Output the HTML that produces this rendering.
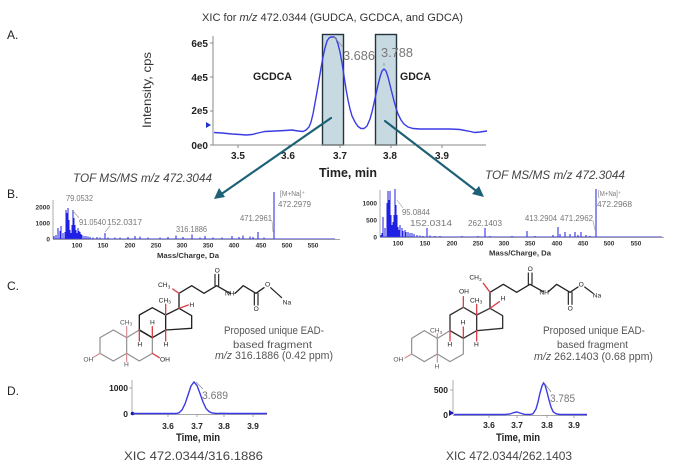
<!DOCTYPE html>
<html><head><meta charset="utf-8"><style>
html,body{margin:0;padding:0;background:#fff;}
svg{display:block;}
text{font-family:"Liberation Sans",Arial,sans-serif;}
</style></head><body>
<svg width="674" height="473" viewBox="0 0 674 473" xmlns="http://www.w3.org/2000/svg">
<rect width="674" height="473" fill="#fff"/>

<!-- Panel labels -->
<text x="7" y="39" font-size="12" fill="#222">A.</text>
<text x="7" y="198" font-size="12" fill="#222">B.</text>
<text x="7" y="290" font-size="12" fill="#222">C.</text>
<text x="7" y="395" font-size="12" fill="#222">D.</text>

<!-- ============ PANEL A ============ -->
<text x="202" y="21" font-size="11" fill="#333" textLength="261" lengthAdjust="spacingAndGlyphs">XIC for <tspan font-style="italic">m/z</tspan> 472.0344 (GUDCA, GCDCA, and GDCA)</text>

<rect x="322.5" y="34.5" width="21" height="110.5" fill="#c8dae1" stroke="#24363d" stroke-width="1.4"/>
<rect x="375.5" y="34.5" width="21" height="110.5" fill="#c8dae1" stroke="#24363d" stroke-width="1.4"/>

<line x1="213" y1="36" x2="213" y2="145" stroke="#888" stroke-width="1"/>
<line x1="213" y1="145" x2="486" y2="145" stroke="#888" stroke-width="1"/>
<g stroke="#888" stroke-width="1">
<line x1="210" y1="43" x2="213" y2="43"/><line x1="210" y1="77" x2="213" y2="77"/>
<line x1="210" y1="111" x2="213" y2="111"/><line x1="210" y1="145" x2="213" y2="145"/>
<line x1="238" y1="145" x2="238" y2="148"/><line x1="289" y1="145" x2="289" y2="148"/>
<line x1="340" y1="145" x2="340" y2="148"/><line x1="391" y1="145" x2="391" y2="148"/>
<line x1="442" y1="145" x2="442" y2="148"/>
</g>
<g font-size="10" font-weight="bold" fill="#222" text-anchor="end">
<text x="208" y="47">6e5</text><text x="208" y="81">4e5</text>
<text x="208" y="114">2e5</text><text x="208" y="149">0e0</text>
</g>
<g font-size="10" font-weight="bold" fill="#222" text-anchor="middle">
<text x="238" y="159">3.5</text><text x="288" y="159">3.6</text>
<text x="340" y="159">3.7</text><text x="390" y="159">3.8</text>
<text x="442" y="159">3.9</text>
</g>
<text x="348" y="177" font-size="13" font-weight="bold" fill="#222" text-anchor="middle" textLength="58" lengthAdjust="spacingAndGlyphs">Time, min</text>
<text transform="translate(151,90) rotate(-90)" font-size="12" fill="#333" text-anchor="middle" textLength="76" lengthAdjust="spacingAndGlyphs">Intensity, cps</text>
<path d="M206,122 L211,125 L206,128 Z" fill="#2233cc"/>

<text x="253" y="80" font-size="11" font-weight="bold" fill="#222" textLength="39" lengthAdjust="spacingAndGlyphs">GCDCA</text>
<text x="400" y="80" font-size="11" font-weight="bold" fill="#222" textLength="31" lengthAdjust="spacingAndGlyphs">GDCA</text>

<path d="M214,132.5 L222,133 L232,134 L240,134.5 L246,135 L252,134.5 L258,133 L265,131.5 L275,131 L285,130.5 L292,130 L298,131 L303,131.5 L306,130 L309,127 L311,122 L313,114 L315,103 L317,92 L319,80 L321,68 L323,57 L325,48 L327,41 L329,38 L331,37 L334,37 L336,38.5 L338,44 L340,52 L342,63 L344,76 L346,89 L348,100 L350,109 L352,116 L355,122 L358,126.5 L361,128.5 L364,128.5 L367,126 L370,119 L372,112 L374,103 L376,94 L378,85 L380,77 L382,71 L384,69 L386,71 L388,77 L390,85 L392,93 L394,101 L396,108 L398,114 L401,120 L404,124 L408,127 L413,128.5 L420,129 L435,129 L450,129 L460,129.5 L468,131 L475,132.5 L480,132 L487,131" fill="none" stroke="#3b3be6" stroke-width="1.4"/>

<line x1="334" y1="37" x2="343" y2="47" stroke="#888" stroke-width="0.8"/>
<line x1="384" y1="63" x2="384" y2="66" stroke="#888" stroke-width="0.8"/>
<text x="343" y="60" font-size="13" fill="#777" textLength="32" lengthAdjust="spacingAndGlyphs">3.686</text>
<text x="381" y="57" font-size="13" fill="#777" textLength="32" lengthAdjust="spacingAndGlyphs">3.788</text>

<g stroke="#1d6177" stroke-width="2.2" fill="none" stroke-linecap="round">
<line x1="331" y1="118" x2="220" y2="195"/>
<line x1="385" y1="121" x2="479" y2="193"/>
</g>
<path d="M214,199 L219,188 L225,197 Z" fill="#1d6177"/>
<path d="M484,197 L472,194 L479,186 Z" fill="#1d6177"/>

<!-- ============ PANEL B LEFT ============ -->
<text x="73" y="182" font-size="12" font-style="italic" fill="#444" textLength="139" lengthAdjust="spacingAndGlyphs">TOF MS/MS m/z 472.3044</text>
<line x1="53" y1="200" x2="53" y2="239" stroke="#999" stroke-width="0.8"/>
<line x1="53" y1="239.5" x2="340" y2="239.5" stroke="#888" stroke-width="0.8"/>
<g font-size="6.5" font-weight="bold" fill="#333" text-anchor="end">
<text x="50" y="209.5">2000</text><text x="50" y="225.5">1000</text><text x="50" y="241.5">0</text>
</g>
<g font-size="6.5" font-weight="bold" fill="#333" text-anchor="middle">
<text x="77" y="247.5">100</text><text x="103" y="247.5">150</text><text x="130" y="247.5">200</text>
<text x="156" y="247.5">250</text><text x="182" y="247.5">300</text><text x="208" y="247.5">350</text>
<text x="234" y="247.5">400</text><text x="261" y="247.5">450</text><text x="287" y="247.5">500</text>
<text x="313" y="247.5">550</text>
</g>
<text x="188" y="258" font-size="7" font-weight="bold" fill="#333" text-anchor="middle" textLength="62" lengthAdjust="spacingAndGlyphs">Mass/Charge, Da</text>
<path d="M54,239 V236 M56,239 V235 M58,239 V228 M60,239 V231 M61,239 V226 M63,239 V233 M65,239 V232 M66,239 V210 M67,239 V213 M68,239 V208 M69,239 V220 M70,239 V230 M71,239 V233 M72,239 V225 M73,239 V210 M74,239 V218 M75,239 V225 M76,239 V230 M77,239 V233 M78,239 V228 M79,239 V231 M80,239 V232 M81,239 V234 M82,239 V235 M84,239 V236 M86,239 V236 M88,239 V236.5 M90,239 V237 M93,239 V237.5 M97,239 V237 M100,239 V237.5 M105,239 V233 M108,239 V237.5 M115,239 V237.5 M120,239 V237.5 M128,239 V237 M135,239 V236 M140,239 V236.5 M148,239 V237.5 M160,239 V237.5 M168,239 V237 M176,239 V235.5 M183,239 V237 M192,239 V234.5 M200,239 V237.5 M205,239 V236 M213,239 V237.5 M222,239 V237.5 M232,239 V236 M239,239 V237 M243,239 V235.5 M250,239 V236.5 M253,239 V237 M258,239 V232 M264,239 V237.5 M274,239 V192" stroke="#1f1fe6" stroke-width="1"/>
<line x1="53" y1="238.8" x2="335" y2="238.8" stroke="#3a3ae0" stroke-width="0.7"/>
<g font-size="8.5" fill="#777">
<text x="66" y="201" textLength="27" lengthAdjust="spacingAndGlyphs">79.0532</text>
<text x="79" y="225" textLength="27" lengthAdjust="spacingAndGlyphs">91.0540</text>
<text x="107" y="225" textLength="35" lengthAdjust="spacingAndGlyphs">152.0317</text>
<text x="176" y="232" textLength="31" lengthAdjust="spacingAndGlyphs">316.1886</text>
<text x="240" y="221" textLength="32" lengthAdjust="spacingAndGlyphs">471.2961</text>
<text x="280" y="196" font-size="7" textLength="25" lengthAdjust="spacingAndGlyphs">[M+Na]⁺</text>
<text x="278" y="207" textLength="33" lengthAdjust="spacingAndGlyphs">472.2979</text>
</g>
<g stroke="#999" stroke-width="0.6" fill="none">
<line x1="73" y1="211" x2="79" y2="218"/>
<line x1="105" y1="232" x2="110" y2="226"/>
<line x1="272" y1="221" x2="273" y2="232"/>
</g>

<!-- ============ PANEL B RIGHT ============ -->
<text x="485" y="179" font-size="12" font-style="italic" fill="#444" textLength="140" lengthAdjust="spacingAndGlyphs">TOF MS/MS m/z 472.3044</text>
<line x1="380" y1="190" x2="380" y2="237" stroke="#999" stroke-width="0.8"/>
<line x1="380" y1="237.5" x2="664" y2="237.5" stroke="#888" stroke-width="0.8"/>
<g font-size="6.5" font-weight="bold" fill="#333" text-anchor="end">
<text x="377" y="205.5">1000</text><text x="377" y="222.5">500</text><text x="377" y="239.5">0</text>
</g>
<g font-size="6.5" font-weight="bold" fill="#333" text-anchor="middle">
<text x="398" y="245.5">100</text><text x="425" y="245.5">150</text><text x="452" y="245.5">200</text>
<text x="478" y="245.5">250</text><text x="504" y="245.5">300</text><text x="530" y="245.5">350</text>
<text x="557" y="245.5">400</text><text x="583" y="245.5">450</text><text x="609" y="245.5">500</text>
<text x="636" y="245.5">550</text>
</g>
<text x="520" y="255.5" font-size="7" font-weight="bold" fill="#333" text-anchor="middle" textLength="62" lengthAdjust="spacingAndGlyphs">Mass/Charge, Da</text>
<path d="M381,237 V235 M382,237 V233 M383,237 V217 M385,237 V228 M387,237 V203 M388,237 V191 M389,237 V200 M390,237 V191 M391,237 V215 M392,237 V225 M393,237 V222 M394,237 V215 M395,237 V189 M396,237 V205 M397,237 V215 M398,237 V227 M399,237 V230 M400,237 V225 M402,237 V228 M403,237 V231 M405,237 V230 M406,237 V232 M408,237 V232 M410,237 V233 M412,237 V233 M414,237 V234 M417,237 V235 M420,237 V235.5 M423,237 V236 M427,237 V228 M430,237 V235.5 M435,237 V236 M440,237 V236 M448,237 V236.5 M455,237 V236.5 M462,237 V236 M470,237 V236.5 M478,237 V236 M485,237 V228 M490,237 V236 M495,237 V236.5 M505,237 V236.5 M512,237 V236 M520,237 V236.5 M527,237 V231 M535,237 V236 M545,237 V236.5 M553,237 V235 M558,237 V227 M560,237 V234 M565,237 V232 M570,237 V234 M575,237 V232 M578,237 V235 M581,237 V232 M586,237 V235 M590,237 V236 M596,237 V189" stroke="#1f1fe6" stroke-width="1"/>
<line x1="380" y1="236.8" x2="662" y2="236.8" stroke="#3a3ae0" stroke-width="0.7"/>
<g font-size="8.5" fill="#777">
<text x="402" y="215" textLength="28" lengthAdjust="spacingAndGlyphs">95.0844</text>
<text x="410" y="226" textLength="42" lengthAdjust="spacingAndGlyphs">152.0314</text>
<text x="468" y="226" textLength="34" lengthAdjust="spacingAndGlyphs">262.1403</text>
<text x="525" y="221" textLength="32" lengthAdjust="spacingAndGlyphs">413.2904</text>
<text x="560" y="221" textLength="33" lengthAdjust="spacingAndGlyphs">471.2962</text>
<text x="598" y="196" font-size="7" textLength="23" lengthAdjust="spacingAndGlyphs">[M+Na]⁺</text>
<text x="597" y="207" textLength="35" lengthAdjust="spacingAndGlyphs">472.2968</text>
</g>
<g stroke="#999" stroke-width="0.6" fill="none">
<line x1="397" y1="200" x2="403" y2="208"/>
<line x1="593" y1="221" x2="595" y2="230"/>
</g>

<!-- ============ PANEL C LEFT STRUCTURE ============ -->
<g transform="translate(0,265) scale(0.33333)" fill="none" stroke-linecap="round" stroke-linejoin="round">
  <path d="M380,218 L340,195 L300,218 L300,265 L340,288 L380,265 Z" stroke="#8e8e8e" stroke-width="3.5"/>
  <path d="M380,218 L418,195 L457,218 L457,265 L418,288 L380,265" stroke="#8e8e8e" stroke-width="3.5"/>
  <path d="M418,195 L418,150 L457,128 L497,150 L497,195 L457,218 Z" stroke="#222" stroke-width="4"/>
  <path d="M497,150 L537,130 L575,152 L575,190 L497,195" stroke="#222" stroke-width="4"/>
  <line x1="418" y1="195" x2="457" y2="218" stroke="#222" stroke-width="4"/>
  <path d="M537,130 L537,85 L575,62 L612,85 L650,62 L690,85 M705,85 L730,62 L768,85 L792,68" stroke="#222" stroke-width="4"/>
  <path d="M645,62 L645,28 M656,62 L656,28" stroke="#222" stroke-width="3.5"/>
  <path d="M763,85 L763,120 M774,85 L774,120" stroke="#222" stroke-width="3.5"/>
  <line x1="812" y1="68" x2="845" y2="98" stroke="#222" stroke-width="3.5"/>
  <g stroke="#d9404a" stroke-width="4">
    <line x1="537" y1="85" x2="518" y2="72"/>
    <line x1="497" y1="150" x2="497" y2="118"/>
    <line x1="537" y1="130" x2="565" y2="120"/>
    <line x1="457" y1="218" x2="457" y2="185"/>
    <line x1="418" y1="195" x2="418" y2="228"/>
    <line x1="497" y1="195" x2="497" y2="228"/>
    <line x1="457" y1="265" x2="478" y2="278"/>
  </g>
  <g stroke="#d98a90" stroke-width="3.5">
    <line x1="380" y1="218" x2="380" y2="185"/>
    <line x1="300" y1="265" x2="280" y2="277"/>
    <line x1="380" y1="265" x2="380" y2="290"/>
  </g>
  <g font-size="20" fill="#222" stroke="none" font-family="Liberation Sans, sans-serif">
    <text x="474" y="66">CH<tspan font-size="14" dy="4">3</tspan></text>
    <text x="476" y="112">CH<tspan font-size="14" dy="4">3</tspan></text>
    <text x="360" y="178" fill="#555">CH<tspan font-size="14" dy="4">3</tspan></text>
    <text x="568" y="126">H</text>
    <text x="450" y="178">H</text>
    <text x="412" y="244">H</text>
    <text x="491" y="244">H</text>
    <text x="372" y="304" fill="#555">H</text>
    <text x="250" y="289" fill="#555">OH</text>
    <text x="480" y="289">OH</text>
    <text x="644" y="22">O</text>
    <text x="675" y="92">NH</text>
    <text x="761" y="138">O</text>
    <text x="795" y="64">O</text>
    <text x="848" y="118">Na</text>
  </g>
</g>
<g font-size="11" fill="#555">
<text x="224" y="334" textLength="100" lengthAdjust="spacingAndGlyphs">Proposed unique EAD-</text>
<text x="233" y="348" font-size="10.5" textLength="79" lengthAdjust="spacingAndGlyphs">based fragment</text>
<text x="215" y="359" textLength="118" lengthAdjust="spacingAndGlyphs"><tspan font-style="italic">m/z</tspan> 316.1886 (0.42 ppm)</text>
</g>

<!-- ============ PANEL C RIGHT STRUCTURE ============ -->
<g transform="translate(340,265) scale(0.33333)" fill="none" stroke-linecap="round" stroke-linejoin="round">
  <path d="M292,220 L253,197 L215,220 L215,267 L253,290 L292,267 Z" stroke="#8e8e8e" stroke-width="3.5"/>
  <path d="M292,220 L330,197 L370,220 L370,267 L330,290 L292,267" stroke="#8e8e8e" stroke-width="3.5"/>
  <path d="M330,197 L330,150 L370,127 L410,150 L410,197 L370,220 Z" stroke="#333" stroke-width="4"/>
  <path d="M410,150 L450,130 L488,152 L488,190 L410,197" stroke="#333" stroke-width="4"/>
  <path d="M450,130 L450,82 L490,58 L530,82 L570,58 L610,80 M625,80 L650,58 L690,82 L714,66" stroke="#222" stroke-width="4"/>
  <path d="M565,58 L565,24 M576,58 L576,24" stroke="#222" stroke-width="3.5"/>
  <path d="M685,82 L685,118 M696,82 L696,118" stroke="#222" stroke-width="3.5"/>
  <line x1="734" y1="66" x2="758" y2="84" stroke="#222" stroke-width="3.5"/>
  <g stroke="#d9404a" stroke-width="4">
    <line x1="450" y1="82" x2="430" y2="55"/>
    <line x1="410" y1="150" x2="410" y2="118"/>
    <line x1="450" y1="130" x2="478" y2="110"/>
    <line x1="370" y1="127" x2="370" y2="95"/>
    <line x1="370" y1="220" x2="370" y2="186"/>
    <line x1="330" y1="197" x2="330" y2="228"/>
    <line x1="410" y1="197" x2="410" y2="228"/>
  </g>
  <g stroke="#d98a90" stroke-width="3.5">
    <line x1="292" y1="220" x2="292" y2="206"/>
    <line x1="215" y1="267" x2="195" y2="279"/>
    <line x1="292" y1="267" x2="292" y2="292"/>
  </g>
  <g font-size="20" fill="#222" stroke="none" font-family="Liberation Sans, sans-serif">
    <text x="388" y="44">CH<tspan font-size="14" dy="4">3</tspan></text>
    <text x="390" y="112">CH<tspan font-size="14" dy="4">3</tspan></text>
    <text x="270" y="203" fill="#555">CH<tspan font-size="14" dy="4">3</tspan></text>
    <text x="357" y="86">OH</text>
    <text x="482" y="106">H</text>
    <text x="362" y="178">H</text>
    <text x="322" y="244">H</text>
    <text x="402" y="244">H</text>
    <text x="284" y="310" fill="#555">H</text>
    <text x="160" y="290" fill="#555">OH</text>
    <text x="563" y="18">O</text>
    <text x="598" y="88">NH</text>
    <text x="683" y="136">O</text>
    <text x="716" y="64">O</text>
    <text x="758" y="98">Na</text>
  </g>
</g>
<g font-size="11" fill="#555">
<text x="543" y="334" textLength="102" lengthAdjust="spacingAndGlyphs">Proposed unique EAD-</text>
<text x="557" y="348" font-size="10.5" textLength="71" lengthAdjust="spacingAndGlyphs">based fragment</text>
<text x="534" y="360" textLength="119" lengthAdjust="spacingAndGlyphs"><tspan font-style="italic">m/z</tspan> 262.1403 (0.68 ppm)</text>
</g>

<!-- ============ PANEL D LEFT ============ -->
<line x1="132" y1="380" x2="132" y2="414" stroke="#999" stroke-width="0.8"/>
<line x1="132" y1="414.5" x2="267" y2="414.5" stroke="#888" stroke-width="0.8"/>
<g stroke="#999" stroke-width="0.8">
<line x1="129" y1="388" x2="132" y2="388"/>
<line x1="168" y1="414" x2="168" y2="417"/><line x1="197" y1="414" x2="197" y2="417"/>
<line x1="224" y1="414" x2="224" y2="417"/><line x1="253" y1="414" x2="253" y2="417"/>
</g>
<text x="128" y="391" font-size="8.5" font-weight="bold" fill="#222" text-anchor="end">1000</text>
<text x="128" y="417" font-size="8.5" font-weight="bold" fill="#222" text-anchor="end">0</text>
<g font-size="8.5" font-weight="bold" fill="#222" text-anchor="middle">
<text x="168" y="429">3.6</text><text x="197" y="429">3.7</text><text x="224" y="429">3.8</text><text x="253" y="429">3.9</text>
</g>
<text x="198" y="441" font-size="11" font-weight="bold" fill="#222" text-anchor="middle" textLength="44" lengthAdjust="spacingAndGlyphs">Time, min</text>
<circle cx="132.5" cy="413.5" r="1.8" fill="#1a1ab0"/>
<path d="M133,413.5 L170,413.5 L176,413.5 L179,412.8 L182,410 L185,404 L188,395 L191,386 L194,382 L197,385.5 L200,393.5 L203,402 L206,408.5 L209,411.5 L212,413 L216,413.5 L224,413.3 L228,413.5 L267,413.5" fill="none" stroke="#3b3be6" stroke-width="1.4"/>
<line x1="196" y1="382" x2="203" y2="389" stroke="#888" stroke-width="0.7"/>
<text x="202" y="399" font-size="11" fill="#777" textLength="26" lengthAdjust="spacingAndGlyphs">3.689</text>
<text x="124" y="460" font-size="11.5" fill="#444" textLength="139" lengthAdjust="spacingAndGlyphs">XIC 472.0344/316.1886</text>

<!-- ============ PANEL D RIGHT ============ -->
<line x1="453" y1="380" x2="453" y2="415" stroke="#999" stroke-width="0.8"/>
<line x1="453" y1="415.5" x2="587" y2="415.5" stroke="#888" stroke-width="0.8"/>
<g stroke="#999" stroke-width="0.8">
<line x1="450" y1="390" x2="453" y2="390"/>
<line x1="489" y1="415" x2="489" y2="418"/><line x1="517" y1="415" x2="517" y2="418"/>
<line x1="547" y1="415" x2="547" y2="418"/><line x1="574" y1="415" x2="574" y2="418"/>
</g>
<text x="448" y="393" font-size="8.5" font-weight="bold" fill="#222" text-anchor="end">500</text>
<text x="448" y="418" font-size="8.5" font-weight="bold" fill="#222" text-anchor="end">0</text>
<g font-size="8.5" font-weight="bold" fill="#222" text-anchor="middle">
<text x="489" y="428">3.6</text><text x="517" y="428">3.7</text><text x="547" y="428">3.8</text><text x="574" y="428">3.9</text>
</g>
<text x="518" y="441" font-size="11" font-weight="bold" fill="#222" text-anchor="middle" textLength="44" lengthAdjust="spacingAndGlyphs">Time, min</text>
<path d="M449,410 L454,413 L449,416 Z" fill="#1a1ab0"/>
<path d="M454,414.5 L505,414.5 L510,414 L514,412.5 L517,412 L520,413 L524,414.3 L530,414.5 L533,413.8 L536,409 L538,402 L540,393 L542,386 L543.5,383 L545,385 L547,392 L549,400 L551,407 L553,411.5 L556,413.8 L560,414.5 L587,414.5" fill="none" stroke="#3b3be6" stroke-width="1.4"/>
<line x1="545" y1="384" x2="551" y2="392" stroke="#888" stroke-width="0.7"/>
<text x="550" y="402" font-size="11" fill="#777" textLength="25" lengthAdjust="spacingAndGlyphs">3.785</text>
<text x="446" y="460" font-size="11.5" fill="#444" textLength="126" lengthAdjust="spacingAndGlyphs">XIC 472.0344/262.1403</text>
</svg>
</body></html>
